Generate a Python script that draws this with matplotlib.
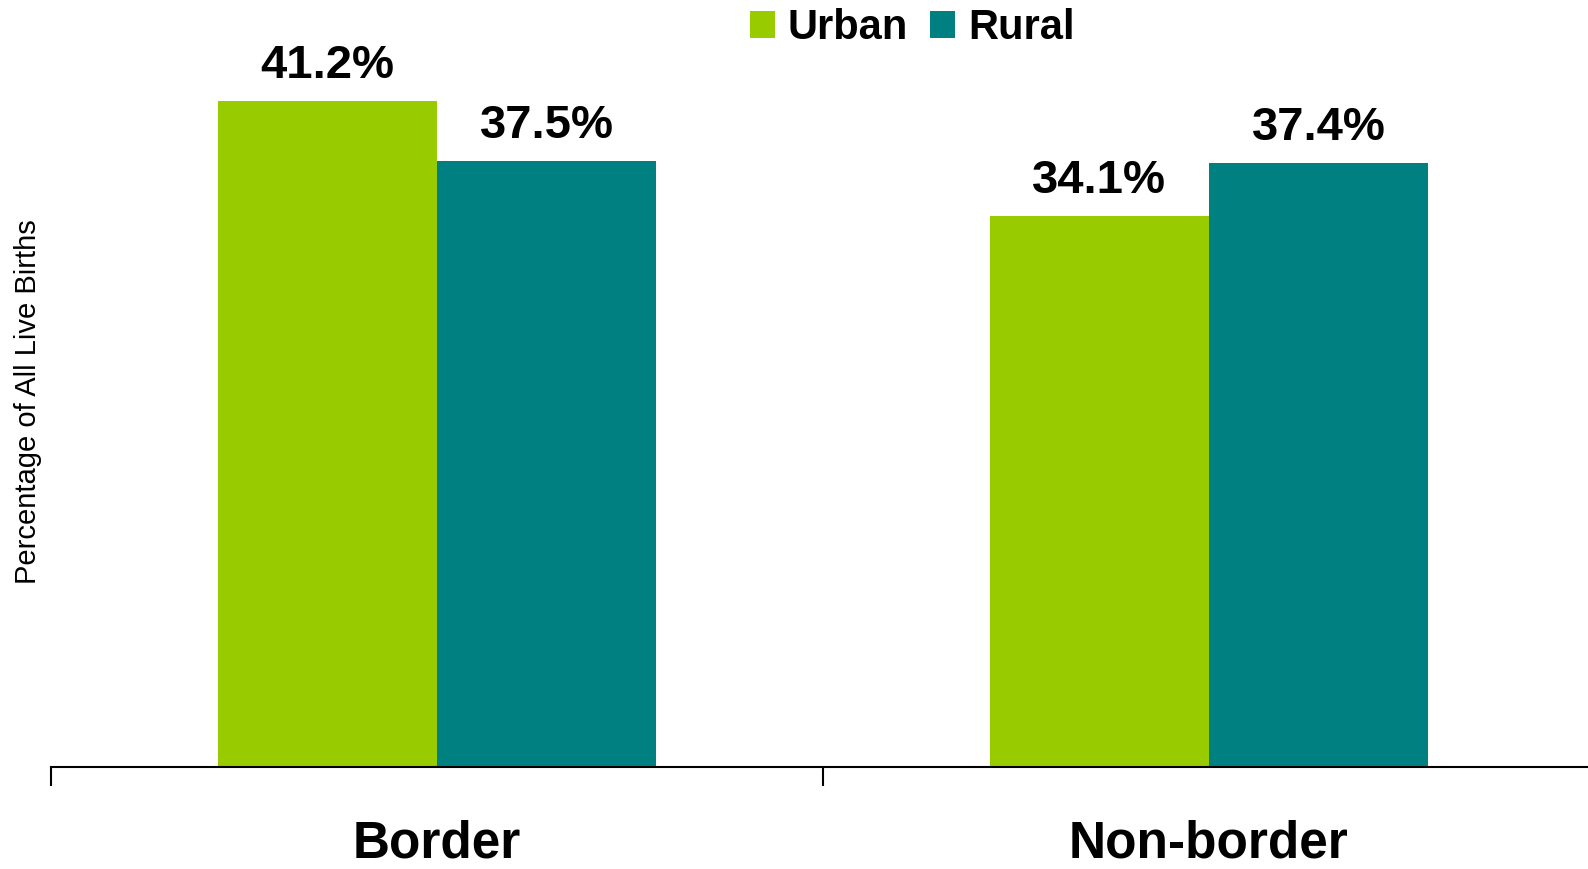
import numpy as np
import matplotlib.pyplot as plt
from matplotlib.ticker import FixedLocator

categories = ["Border", "Non-border"]
urban = [41.2, 34.1]
rural = [37.5, 37.4]
series_names = ["Urban", "Rural"]

plt.rcParams['font.family'] = ['Liberation Sans', 'DejaVu Sans']

fig = plt.figure(figsize=(15.88, 8.69), dpi=100)
ax = fig.add_axes([51/1588, 1-767/869, 1544/1588, 767/869])

x = np.arange(len(categories))
w = 0.284
b1 = ax.bar(x - w/2, urban, w, color="#99CC00", label=series_names[0])
b2 = ax.bar(x + w/2, rural, w, color="#008080", label=series_names[1])

for bars, vals in [(b1, urban), (b2, rural)]:
    for r, v in zip(bars, vals):
        ax.annotate(f"{v:.1f}%", (r.get_x() + r.get_width()/2, v),
                    xytext=(0, 35), textcoords="offset pixels",
                    ha="center", va="center", fontsize=34, fontweight="bold")

ax.set_xlim(-0.5, 1.5)
ax.set_ylim(0, 47.46)
ax.set_yticks([])
for s in ["left", "top", "right"]:
    ax.spines[s].set_visible(False)
ax.spines["bottom"].set_linewidth(1.5)

ax.set_xticks(x)
ax.set_xticklabels(categories, fontsize=37, fontweight="bold")
ax.tick_params(axis="x", which="major", length=0, pad=38)
ax.xaxis.set_minor_locator(FixedLocator([-0.5, 0.5, 1.5]))
ax.tick_params(axis="x", which="minor", length=14, width=1.5, direction="out")

fig.text(28/1588, 1-402/869, "Percentage of All Live Births", rotation=90,
         ha="center", va="center", fontsize=21)

ax.legend(loc="center", bbox_to_anchor=(912/1588, 1-28/869), bbox_transform=fig.transFigure,
          ncol=2, frameon=False, prop={"weight": "bold", "size": 30},
          handlelength=0.6, handleheight=0.6, handletextpad=0.3, columnspacing=0.55)

fig.savefig("out.png", dpi=100)
